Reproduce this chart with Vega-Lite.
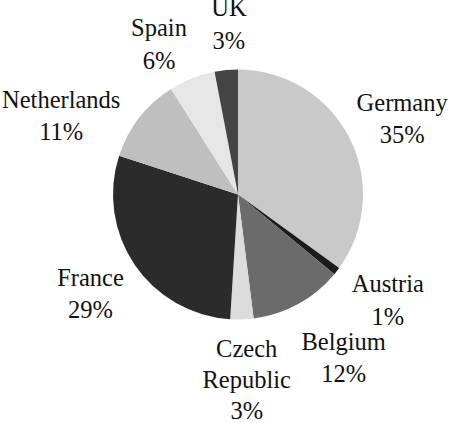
{
  "$schema": "https://vega.github.io/schema/vega-lite/v6.json",
  "width": 300,
  "height": 300,
  "autosize": "none",
  "padding": {"left": 88, "top": 44.5, "right": 62, "bottom": 78.5},
  "background": "white",
  "view": {"stroke": null},
  "config": {"text": {"font": "'Liberation Serif', 'Times New Roman', Times, serif", "fontSize": 24.5, "lineHeight": 32.5, "lineBreak": "\n", "radius": 182, "baseline": "alphabetic", "color": "#111111"}},
  "data": {
    "values": [
      {"rank": 1, "country": "Germany", "share": 35, "label": "Germany\n35%"},
      {"rank": 2, "country": "Austria", "share": 1, "label": "Austria\n1%"},
      {"rank": 3, "country": "Belgium", "share": 12, "label": "Belgium\n12%"},
      {"rank": 4, "country": "Czech Republic", "share": 3, "label": "Czech\nRepublic\n3%"},
      {"rank": 5, "country": "France", "share": 29, "label": "France\n29%"},
      {"rank": 6, "country": "Netherlands", "share": 11, "label": "Netherlands\n11%"},
      {"rank": 7, "country": "Spain", "share": 6, "label": "Spain\n6%"},
      {"rank": 8, "country": "UK", "share": 3, "label": "UK\n3%"}
    ]
  },
  "encoding": {
    "theta": {"field": "share", "type": "quantitative", "stack": true},
    "order": {"field": "rank", "type": "quantitative"},
    "color": {
      "field": "country",
      "type": "nominal",
      "legend": null,
      "scale": {
        "domain": ["Germany", "Austria", "Belgium", "Czech Republic", "France", "Netherlands", "Spain", "UK"],
        "range": ["#c9c9c9", "#1c1c1c", "#6b6b6b", "#dcdcdc", "#2b2b2b", "#bfbfbf", "#e6e6e6", "#444444"]
      }
    }
  },
  "layer": [
    {"mark": {"type": "arc", "outerRadius": 125}},
    {
      "mark": {"type": "text", "dx": 2, "dy": -1},
      "encoding": {"text": {"condition": {"test": "datum.country === 'Germany'", "field": "label", "type": "nominal"}, "value": ""}, "color": {"value": "#111111"}}
    },
    {
      "mark": {"type": "text", "dx": 6, "dy": -14},
      "encoding": {"text": {"condition": {"test": "datum.country === 'Austria'", "field": "label", "type": "nominal"}, "value": ""}, "color": {"value": "#111111"}}
    },
    {
      "mark": {"type": "text", "dx": 18, "dy": -4},
      "encoding": {"text": {"condition": {"test": "datum.country === 'Belgium'", "field": "label", "type": "nominal"}, "value": ""}, "color": {"value": "#111111"}}
    },
    {
      "mark": {"type": "text", "dx": 3, "dy": -19, "lineHeight": 31},
      "encoding": {"text": {"condition": {"test": "datum.country === 'Czech Republic'", "field": "label", "type": "nominal"}, "value": ""}, "color": {"value": "#111111"}}
    },
    {
      "mark": {"type": "text", "dx": 3, "dy": -11},
      "encoding": {"text": {"condition": {"test": "datum.country === 'France'", "field": "label", "type": "nominal"}, "value": ""}, "color": {"value": "#111111"}}
    },
    {
      "mark": {"type": "text", "dx": -33, "dy": 25},
      "encoding": {"text": {"condition": {"test": "datum.country === 'Netherlands'", "field": "label", "type": "nominal"}, "value": ""}, "color": {"value": "#111111"}}
    },
    {
      "mark": {"type": "text", "dx": -12, "dy": 11},
      "encoding": {"text": {"condition": {"test": "datum.country === 'Spain'", "field": "label", "type": "nominal"}, "value": ""}, "color": {"value": "#111111"}}
    },
    {
      "mark": {"type": "text", "dx": 8, "dy": 3},
      "encoding": {"text": {"condition": {"test": "datum.country === 'UK'", "field": "label", "type": "nominal"}, "value": ""}, "color": {"value": "#111111"}}
    }
  ]
}
